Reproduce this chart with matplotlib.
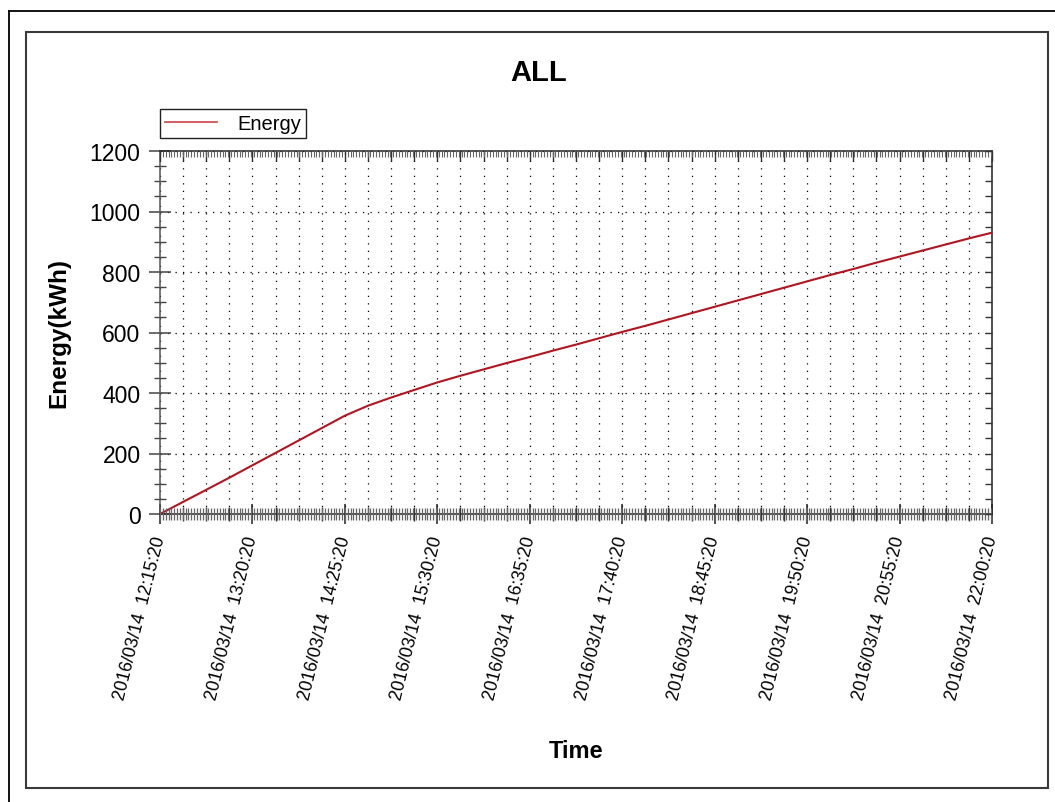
import matplotlib
matplotlib.use("Agg")
import matplotlib.pyplot as plt
import matplotlib.dates as mdates
import pandas as pd
from matplotlib.ticker import FixedLocator, MultipleLocator, NullFormatter
from matplotlib.lines import Line2D
from matplotlib.patches import Rectangle

plt.rcParams["font.family"] = ["Liberation Sans", "DejaVu Sans"]

# ---- data -------------------------------------------------------------
title = "ALL"
series_name = "Energy"
x_label = "Time"
y_label = "Energy(kWh)"

start_time = "2016-03-14 12:15:20"
end_time = "2016-03-14 22:00:20"
sample_step = "975s"          # one reading every 16 min 15 s
energy_kwh = [
    0, 40, 80, 120, 161, 202, 243, 284, 325, 358,
    385, 410, 435, 457, 478, 499, 519, 540, 560, 581,
    602, 622, 643, 664, 685, 706, 727, 748, 769, 790,
    810, 831, 851, 871, 891, 911, 930,
]
label_step = "65min"
grid_step = "975s"
fine_step = "2min"
y_ticks = [0, 200, 400, 600, 800, 1000, 1200]
y_minor_step = 50

# ---- figure -----------------------------------------------------------
W, H = 1055, 803
fig = plt.figure(figsize=(W / 100, H / 100), dpi=100)


def fx(x):
    return x / W


def fy(y):
    return 1 - y / H


# page frames
fig.add_artist(Line2D([fx(8.5), fx(8.5)], [fy(12), fy(803)], color="black", lw=1.3))
fig.add_artist(Line2D([fx(8.5), fx(1055)], [fy(12), fy(12)], color="black", lw=1.3))
fig.add_artist(Rectangle((fx(26), fy(789)), fx(1048) - fx(26), fy(33) - fy(789),
                         transform=fig.transFigure, fill=False,
                         edgecolor="#3a3a3a", lw=1.5))

left, right, top, bottom = 160, 992, 152, 515
rect = [fx(left), fy(bottom), fx(right) - fx(left), fy(top) - fy(bottom)]
ax = fig.add_axes(rect)

times = pd.date_range(start_time, periods=len(energy_kwh), freq=sample_step)
t0 = mdates.date2num(pd.Timestamp(start_time))
t1 = mdates.date2num(pd.Timestamp(end_time))
line, = ax.plot(mdates.date2num(times), energy_kwh, color="#b01520", lw=1.5,
                label=series_name, zorder=5)
ax.set_xlim(t0, t1)
ax.set_ylim(y_ticks[0], y_ticks[-1])

label_times = pd.date_range(start_time, end_time, freq=label_step)
grid_times = pd.date_range(start_time, end_time, freq=grid_step)
fine_times = pd.date_range(start_time, end_time, freq=fine_step)

ax.set_xticks(mdates.date2num(label_times),
              labels=[t.strftime("%Y/%m/%d  %H:%M:%S") for t in label_times])
ax.xaxis.set_minor_locator(FixedLocator(mdates.date2num(grid_times)))
ax.set_yticks(y_ticks)
ax.yaxis.set_minor_locator(MultipleLocator(y_minor_step))

grid_style = dict(color="black", lw=0.9, linestyle=(0, (1, 5)))
ax.grid(True, which="both", axis="x", **grid_style)
ax.grid(True, which="major", axis="y", **grid_style)

ax.tick_params(axis="x", which="major", direction="inout", length=14, width=1.1,
               color="#222222", pad=9, labelsize=12.8)
ax.tick_params(axis="x", which="minor", direction="inout", length=10, width=1.0,
               color="#333333")
ax.tick_params(axis="y", which="major", direction="inout", length=16, width=1.1,
               color="#444444", pad=6, labelsize=16.5)
ax.tick_params(axis="y", which="minor", direction="inout", length=9, width=1.0,
               color="#444444")
for lbl in ax.get_xticklabels():
    lbl.set_rotation(76)
    lbl.set_rotation_mode("anchor")
    lbl.set_ha("right")
    lbl.set_va("center")

for s in ax.spines.values():
    s.set_color("#222222")
    s.set_linewidth(1.1)
ax.spines["left"].set_color("#555555")

ax.set_xlabel(x_label, fontsize=17, fontweight="bold", labelpad=27)
ax.set_ylabel(y_label, fontsize=17.5, fontweight="bold", labelpad=14)

fig.text(fx(539), fy(73), title, fontsize=21, fontweight="bold",
         ha="center", va="center")

# dense ticks along the bottom
ax_fine = fig.add_axes(rect, frameon=False)
ax_fine.set_xlim(t0, t1)
ax_fine.set_ylim(ax.get_ylim())
ax_fine.set_xticks(mdates.date2num(fine_times))
ax_fine.xaxis.set_major_formatter(NullFormatter())
ax_fine.set_yticks([])
ax_fine.tick_params(axis="x", direction="inout", length=8, width=0.9, color="#666666")
ax_fine.patch.set_visible(False)

# inward ticks on the top and right edges
ax_tr = fig.add_axes(rect, frameon=False)
ax_tr.set_xlim(t0, t1)
ax_tr.set_ylim(ax.get_ylim())
ax_tr.xaxis.tick_top()
ax_tr.yaxis.tick_right()
ax_tr.set_xticks(mdates.date2num(grid_times))
ax_tr.xaxis.set_minor_locator(FixedLocator(mdates.date2num(fine_times)))
ax_tr.yaxis.set_major_locator(MultipleLocator(y_minor_step))
ax_tr.xaxis.set_major_formatter(NullFormatter())
ax_tr.yaxis.set_major_formatter(NullFormatter())
ax_tr.tick_params(axis="x", which="major", direction="in", length=7, width=1.0, color="#333333")
ax_tr.tick_params(axis="x", which="minor", direction="in", length=4, width=0.8, color="#666666")
ax_tr.tick_params(axis="y", which="major", direction="in", length=5, width=1.0, color="#333333")
ax_tr.patch.set_visible(False)

leg = fig.legend(handles=[Line2D([], [], color="#d04048", lw=1.2)], labels=[series_name],
                 loc="upper left", bbox_to_anchor=(fx(160), fy(110)),
                 frameon=True, fancybox=False, edgecolor="#222222", framealpha=1,
                 fontsize=14.5, handlelength=2.6, borderpad=0.25, handletextpad=1.0,
                 borderaxespad=0)
leg.get_frame().set_linewidth(1.0)

fig.savefig("out.png", dpi=100)
